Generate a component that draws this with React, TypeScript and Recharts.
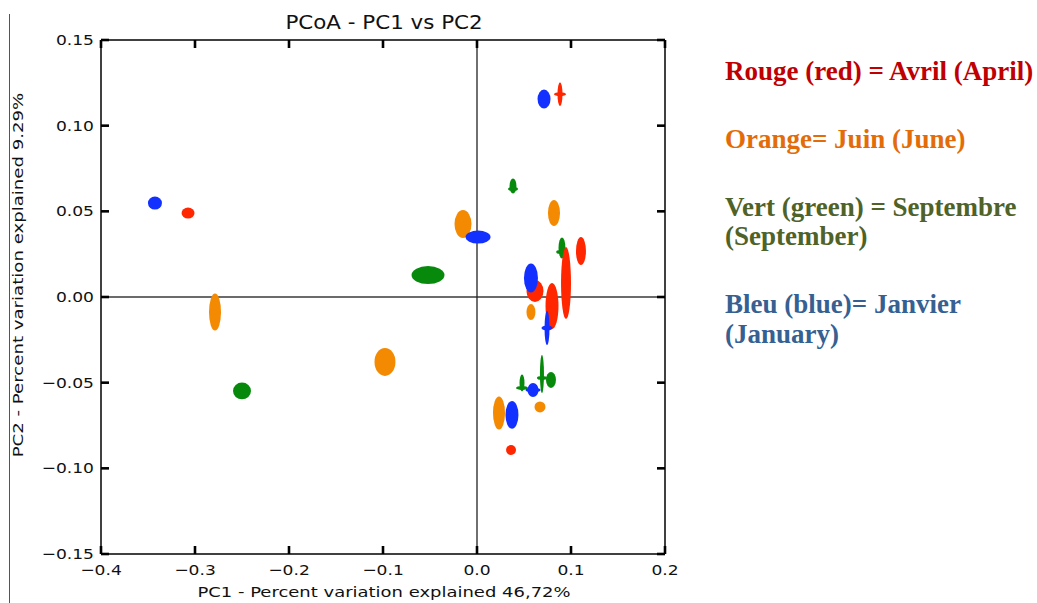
import { ScatterChart, Scatter, XAxis, YAxis, ReferenceLine } from "recharts";

// PCoA coordinates (PC1, PC2) and jackknife spread (full width along PC1 / PC2)
const aprilPC1 = [-0.3074, 0.0883, 0.0883, 0.1106, 0.0617, 0.0947, 0.0798, 0.0362];
const aprilPC2 = [0.049, 0.1184, 0.1184, 0.0268, 0.0035, 0.0082, -0.0053, -0.0893];
const aprilSpread1 = [0.0138, 0.0053, 0.0128, 0.0106, 0.0181, 0.0106, 0.0138, 0.0106];
const aprilSpread2 = [0.0064, 0.014, 0.0023, 0.0163, 0.0128, 0.042, 0.0268, 0.0058];

const junePC1 = [-0.0149, 0.0819, -0.2787, -0.0979, 0.0574, 0.0234, 0.067];
const junePC2 = [0.0426, 0.049, -0.0088, -0.0379, -0.0088, -0.0677, -0.0642];
const juneSpread1 = [0.0181, 0.0128, 0.0128, 0.0223, 0.0096, 0.0128, 0.0117];
const juneSpread2 = [0.0163, 0.0152, 0.0216, 0.0163, 0.0093, 0.0193, 0.0064];

const septPC1 = [-0.0521, -0.25, 0.0383, 0.0383, 0.0904, 0.0885, 0.0787, 0.0691, 0.0691, 0.0479, 0.0479];
const septPC2 = [0.0128, -0.0548, 0.0648, 0.063, 0.0286, 0.0263, -0.0484, -0.0449, -0.0473, -0.0502, -0.0531];
const septSpread1 = [0.0351, 0.0191, 0.0074, 0.0106, 0.0074, 0.0085, 0.0106, 0.0043, 0.0106, 0.0053, 0.0128];
const septSpread2 = [0.0105, 0.0099, 0.0088, 0.0023, 0.0123, 0.0023, 0.0093, 0.0222, 0.0023, 0.0099, 0.0023];

const janPC1 = [-0.3426, 0.0713, 0.0011, 0.0574, 0.0745, 0.0745, 0.0596, 0.0596, 0.0372];
const janPC2 = [0.0548, 0.1155, 0.035, 0.0111, -0.0181, -0.0181, -0.0543, -0.0543, -0.0688];
const janSpread1 = [0.0149, 0.0138, 0.0266, 0.0149, 0.0053, 0.0117, 0.0117, 0.016, 0.0138];
const janSpread2 = [0.0076, 0.0111, 0.0076, 0.0169, 0.0198, 0.0029, 0.0082, 0.0029, 0.0163];

const xTicks = [-0.4, -0.3, -0.2, -0.1, 0, 0.1, 0.2];
const xTickLabels = ["\u22120.4", "\u22120.3", "\u22120.2", "\u22120.1", "0.0", "0.1", "0.2"];
const yTicks = [-0.15, -0.1, -0.05, 0, 0.05, 0.1, 0.15];
const yTickLabels = ["\u22120.15", "\u22120.10", "\u22120.05", "0.00", "0.05", "0.10", "0.15"];

const legendLines = [
  { text: "Rouge (red) = Avril (April)", color: "#c00000", y: 80 },
  { text: "Orange= Juin (June)", color: "#e36c09", y: 148 },
  { text: "Vert (green) = Septembre", color: "#4f6228", y: 216 },
  { text: "(September)", color: "#4f6228", y: 245 },
  { text: "Bleu (blue)= Janvier", color: "#376092", y: 313 },
  { text: "(January)", color: "#376092", y: 343 },
];

const build = (p1: number[], p2: number[], s1: number[], s2: number[]) =>
  p1.map((x, i) => ({ x, y: p2[i], s1: s1[i], s2: s2[i] }));

const april = build(aprilPC1, aprilPC2, aprilSpread1, aprilSpread2);
const june = build(junePC1, junePC2, juneSpread1, juneSpread2);
const sept = build(septPC1, septPC2, septSpread1, septSpread2);
const jan = build(janPC1, janPC2, janSpread1, janSpread2);

const W = 1037;
const H = 603;
// outer edges of the plot box
const BOX = { top: 40, right: 372, bottom: 49, left: 101 };
const AX = { bottom: 30, top: 10, left: 60, right: 10 };
const MARGIN = {
  top: BOX.top - AX.top,
  right: BOX.right - AX.right,
  bottom: BOX.bottom - AX.bottom,
  left: BOX.left - AX.left,
};
const PW = W - BOX.left - BOX.right;
const PH = H - BOX.top - BOX.bottom;
const XD: [number, number] = [-0.4, 0.2];
const YD: [number, number] = [-0.15, 0.15];
const PX_X = PW / (XD[1] - XD[0]);
const PX_Y = PH / (YD[1] - YD[0]);

const font = "'DejaVu Sans', sans-serif";

// the source figure's text is stretched along its reading direction
const SText = ({ x, y, size, sx, anchor = "middle", rotate = 0, children }: any) => (
  <text
    transform={`translate(${x} ${y}) rotate(${rotate}) scale(${sx} 1)`}
    x={0}
    y={0}
    textAnchor={anchor}
    dominantBaseline="central"
    fontSize={size}
    fontFamily={font}
    fill="#111"
  >
    {children}
  </text>
);

const Ellipse = (color: string) => (props: any) => {
  const { cx, cy, payload } = props;
  if (cx == null || cy == null) return <g />;
  return (
    <ellipse
      cx={cx}
      cy={cy}
      rx={(payload.s1 / 2) * PX_X}
      ry={(payload.s2 / 2) * PX_Y}
      fill={color}
    />
  );
};

const fmtX = (v: number) => xTickLabels[xTicks.findIndex((t) => Math.abs(t - v) < 1e-9)];
const fmtY = (v: number) => yTickLabels[yTicks.findIndex((t) => Math.abs(t - v) < 1e-9)];

const BottomTick = (props: any) => {
  const { x, y, payload } = props;
  return (
    <g>
      <line x1={x} x2={x} y1={y} y2={y - 8} stroke="#000" strokeWidth={2.6} />
      <SText x={x} y={y + 16} size={14.5} sx={1.18}>
        {fmtX(payload.value)}
      </SText>
    </g>
  );
};

const TopTick = (props: any) => {
  const { x, y } = props;
  return <line x1={x} x2={x} y1={y} y2={y + 8} stroke="#000" strokeWidth={2.6} />;
};

const LeftTick = (props: any) => {
  const { x, y, payload } = props;
  return (
    <g>
      <line x1={x} x2={x + 8} y1={y} y2={y} stroke="#000" strokeWidth={2.6} />
      <SText x={x - 7} y={y} size={14.5} sx={1.18} anchor="end">
        {fmtY(payload.value)}
      </SText>
    </g>
  );
};

const RightTick = (props: any) => {
  const { x, y } = props;
  return <line x1={x} x2={x - 8} y1={y} y2={y} stroke="#000" strokeWidth={2.6} />;
};

export default function App() {
  return (
    <div style={{ position: "absolute", left: 0, top: 0, width: W, height: H, background: "#fff" }}>
      <div style={{ position: "absolute", left: 9, top: 14, height: H - 14, borderLeft: "1.5px solid #555" }} />
      <ScatterChart width={W} height={H} margin={MARGIN}>
        <XAxis
          type="number"
          dataKey="x"
          xAxisId="b"
          domain={XD}
          ticks={xTicks}
          height={AX.bottom}
          tickSize={0}
          tickMargin={0}
          tickLine={false}
          tick={<BottomTick />}
          axisLine={{ stroke: "#000", strokeWidth: 1.5 }}
          allowDataOverflow
        />
        <XAxis
          type="number"
          dataKey="x"
          xAxisId="t"
          orientation="top"
          domain={XD}
          ticks={xTicks}
          height={AX.top}
          tickSize={0}
          tickMargin={0}
          tickLine={false}
          tick={<TopTick />}
          axisLine={{ stroke: "#000", strokeWidth: 1.5 }}
          allowDataOverflow
        />
        <YAxis
          type="number"
          dataKey="y"
          yAxisId="l"
          domain={YD}
          ticks={yTicks}
          width={AX.left}
          tickSize={0}
          tickMargin={0}
          tickLine={false}
          tick={<LeftTick />}
          axisLine={{ stroke: "#000", strokeWidth: 1.5 }}
          allowDataOverflow
        />
        <YAxis
          type="number"
          dataKey="y"
          yAxisId="r"
          orientation="right"
          domain={YD}
          ticks={yTicks}
          width={AX.right}
          tickSize={0}
          tickMargin={0}
          tickLine={false}
          tick={<RightTick />}
          axisLine={{ stroke: "#000", strokeWidth: 1.5 }}
          allowDataOverflow
        />
        <ReferenceLine xAxisId="b" yAxisId="l" y={0} stroke="#6b6b6b" strokeWidth={2} />
        <ReferenceLine xAxisId="b" yAxisId="l" x={0} stroke="#222" strokeWidth={1.3} />
        <Scatter xAxisId="b" yAxisId="l" data={sept} shape={Ellipse("#078a0c")} isAnimationActive={false} />
        <Scatter xAxisId="b" yAxisId="l" data={june} shape={Ellipse("#f48a02")} isAnimationActive={false} />
        <Scatter xAxisId="b" yAxisId="l" data={april} shape={Ellipse("#ff2600")} isAnimationActive={false} />
        <Scatter xAxisId="b" yAxisId="l" data={jan} shape={Ellipse("#1230ff")} isAnimationActive={false} />
        <SText x={384} y={22} size={20} sx={1.07}>
          PCoA - PC1 vs PC2
        </SText>
        <SText x={384} y={592} size={14.5} sx={1.24}>
          PC1 - Percent variation explained 46,72%
        </SText>
        <SText x={18} y={275} size={14.5} sx={1.25} rotate={-90}>
          PC2 - Percent variation explained 9.29%
        </SText>
        {legendLines.map((l) => (
          <text
            key={l.text}
            x={725}
            y={l.y}
            fill={l.color}
            fontFamily="'Liberation Serif', 'Times New Roman', serif"
            fontWeight="bold"
            fontSize={27}
          >
            {l.text}
          </text>
        ))}
      </ScatterChart>
    </div>
  );
}
